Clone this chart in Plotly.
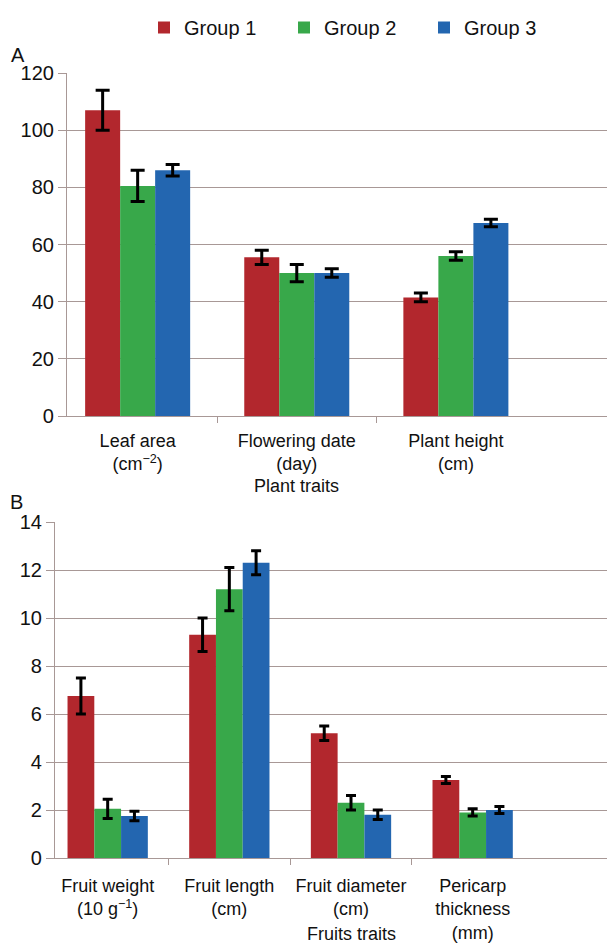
import plotly.graph_objects as go

groups = ["Group 1", "Group 2", "Group 3"]
colors = ["#B2272D", "#38A84A", "#2366B0"]

plant_traits = ["Leaf area<br>(cm<sup>−2</sup>)", "Flowering date<br>(day)", "Plant height<br>(cm)"]
plant_vals = [[107, 55.5, 41.5], [80.5, 50, 56], [86, 50, 67.5]]
plant_err = [[7, 2.5, 1.5], [5.5, 3, 1.5], [2, 1.5, 1.3]]

fruit_traits = ["Fruit weight<br>(10 g<sup>−1</sup>)", "Fruit length<br>(cm)", "Fruit diameter<br>(cm)",
                "Pericarp<br>thickness<br>(mm)"]
fruit_vals = [[6.75, 9.3, 5.2, 3.25], [2.05, 11.2, 2.3, 1.9], [1.75, 12.3, 1.8, 2.0]]
fruit_err = [[0.75, 0.7, 0.3, 0.15], [0.4, 0.9, 0.3, 0.15], [0.2, 0.5, 0.2, 0.15]]

font = "Arial, Liberation Sans, sans-serif"
grid = "#A89896"

fig = go.Figure()
for i, g in enumerate(groups):
    fig.add_trace(go.Bar(
        x=list(range(len(plant_traits))), y=plant_vals[i], name=g,
        marker=dict(color=colors[i], line=dict(width=0)),
        error_y=dict(type="data", array=plant_err[i], color="black", thickness=3, width=7),
        xaxis="x", yaxis="y", legendgroup=g, showlegend=True))
for i, g in enumerate(groups):
    fig.add_trace(go.Bar(
        x=list(range(len(fruit_traits))), y=fruit_vals[i], name=g,
        marker=dict(color=colors[i], line=dict(width=0)),
        error_y=dict(type="data", array=fruit_err[i], color="black", thickness=3, width=5),
        xaxis="x2", yaxis="y2", legendgroup=g, showlegend=False))

# the page body has an 8px default margin; work in window pixels and compensate
O = 8.0
W = 615.0 - O
H = 945.0 - O

def px_x(x):
    return (x - O) / W

def px_y(y):
    return 1 - (y - O) / H

def xax(left, rng, n, labels, standoff):
    return dict(
        domain=[px_x(left), 1], range=rng, automargin=False,
        tickmode="array", tickvals=list(range(n)), ticktext=labels,
        ticks="", showgrid=False, zeroline=False,
        showline=True, linecolor=grid, linewidth=1.2,
        tickfont=dict(size=18, color="#111"), ticklabelstandoff=standoff,
        minor=dict(tickmode="array", tickvals=[k + 0.5 for k in range(n - 1)],
                   ticks="outside", ticklen=6, tickcolor=grid, showgrid=False),
    )

def yax(top, bottom, rng, dtick):
    return dict(
        domain=[px_y(bottom), px_y(top)], range=rng, dtick=dtick, automargin=False,
        showgrid=True, gridcolor=grid, gridwidth=1.2, zeroline=False,
        showline=True, linecolor=grid, linewidth=1.2,
        ticks="outside", ticklen=8, tickcolor=grid,
        tickfont=dict(size=20, color="#111"),
    )

xa = xax(67, [-0.444, 3.0], 3, plant_traits, 8)
xa["anchor"] = "y"
xb = xax(55, [-0.433, 4.17], 4, fruit_traits, 11)
xb["anchor"] = "y2"
ya = yax(73, 416, [0, 120], 20)
ya["anchor"] = "x"
yb = yax(522, 858, [0, 14], 2)
yb["anchor"] = "x2"

fig.update_layout(
    width=int(W), height=int(H),
    margin=dict(l=0, r=0, t=0, b=0),
    paper_bgcolor="white", plot_bgcolor="white",
    font=dict(family=font, size=18, color="#111"),
    barmode="group", bargap=0.34, bargroupgap=0,
    xaxis=xa, yaxis=ya, xaxis2=xb, yaxis2=yb,
    legend=dict(orientation="h", x=px_x(144), xanchor="left", y=1, yanchor="top",
                entrywidth=95, entrywidthmode="pixels", font=dict(size=20),
                bgcolor="rgba(0,0,0,0)", traceorder="normal"),
    annotations=[
        dict(text="A", x=px_x(18), y=px_y(55), xref="paper", yref="paper", showarrow=False,
             xanchor="center", yanchor="middle", font=dict(size=20)),
        dict(text="B", x=px_x(16), y=px_y(502), xref="paper", yref="paper", showarrow=False,
             xanchor="center", yanchor="middle", font=dict(size=20)),
        dict(text="Plant traits", x=1, y=px_y(486), xref="x", yref="paper", showarrow=False,
             xanchor="center", yanchor="middle", font=dict(size=18)),
        dict(text="Fruits traits", x=2, y=px_y(934), xref="x2", yref="paper", showarrow=False,
             xanchor="center", yanchor="middle", font=dict(size=18)),
    ],
)

fig.write_html("out.html")
